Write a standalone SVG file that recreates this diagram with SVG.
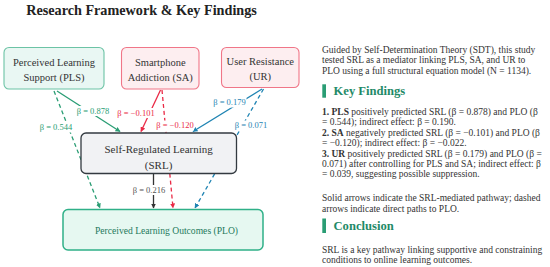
<svg xmlns="http://www.w3.org/2000/svg" width="550" height="267" viewBox="0 0 550 267">
<defs>
<style>
text{font-family:"Liberation Serif","Times New Roman",serif;}
.title{font-size:14.2px;font-weight:bold;fill:#222;text-anchor:middle;}
.node{font-size:10.5px;fill:#333;text-anchor:middle;}
.lbl{font-size:8.5px;text-anchor:middle;}
.body{font-size:9.5px;fill:#333;}
.hdr{font-size:12.6px;font-weight:bold;fill:#1f8a68;}
.pls{stroke:#2a9d74;}
.sa{stroke:#ea2a46;}
.ur{stroke:#1f84b3;}
.srl{stroke:#333;}
.ln{stroke-width:1.3;fill:none;}
.dash{stroke-dasharray:4 3;}
.lblbg{fill:#fff;}
</style>
<marker id="aG" viewBox="0 0 10 10" refX="9" refY="5" markerWidth="5" markerHeight="5" orient="auto" markerUnits="userSpaceOnUse"><path d="M0,0 L10,5 L0,10 z" fill="#2a9d74"/></marker>
<marker id="aR" viewBox="0 0 10 10" refX="9" refY="5" markerWidth="5" markerHeight="5" orient="auto" markerUnits="userSpaceOnUse"><path d="M0,0 L10,5 L0,10 z" fill="#ea2a46"/></marker>
<marker id="aB" viewBox="0 0 10 10" refX="9" refY="5" markerWidth="5" markerHeight="5" orient="auto" markerUnits="userSpaceOnUse"><path d="M0,0 L10,5 L0,10 z" fill="#1f84b3"/></marker>
<marker id="aK" viewBox="0 0 10 10" refX="9" refY="5" markerWidth="5" markerHeight="5" orient="auto" markerUnits="userSpaceOnUse"><path d="M0,0 L10,5 L0,10 z" fill="#333"/></marker>
</defs>
<rect width="550" height="267" fill="#fff"/>
<text class="title" x="141.5" y="15">Research Framework &amp; Key Findings</text>

<g id="connectors">
<line class="ln pls" x1="57" y1="91" x2="120" y2="131.5" marker-end="url(#aG)"/>
<line class="ln pls dash" x1="54" y1="91" x2="100" y2="208" marker-end="url(#aG)"/>
<line class="ln sa" x1="160.5" y1="90" x2="141" y2="131.5" marker-end="url(#aR)"/>
<line class="ln sa dash" x1="162" y1="90" x2="173" y2="208" marker-end="url(#aR)"/>
<line class="ln ur" x1="262" y1="89" x2="193" y2="131.5" marker-end="url(#aB)"/>
<line class="ln ur dash" x1="263.5" y1="89" x2="195" y2="208" marker-end="url(#aB)"/>
<line class="ln srl" x1="153.5" y1="174" x2="153.5" y2="208" marker-end="url(#aK)"/>
<g id="labels">
<rect class="lblbg" x="76" y="106" width="34" height="10"/>
<text class="lbl" x="93" y="113.7" fill="#2a9d74">β = 0.878</text>
<rect class="lblbg" x="39" y="122.5" width="34" height="10"/>
<text class="lbl" x="56" y="130.3" fill="#2a9d74">β = 0.544</text>
<rect class="lblbg" x="117" y="108" width="38" height="10"/>
<text class="lbl" x="136" y="115.7" fill="#ea2a46">β = −0.101</text>
<rect class="lblbg" x="156" y="120.5" width="38" height="10"/>
<text class="lbl" x="175" y="128" fill="#ea2a46">β = −0.120</text>
<rect class="lblbg" x="212.5" y="97.5" width="34" height="10"/>
<text class="lbl" x="229.5" y="105.3" fill="#1f84b3">β = 0.179</text>
<rect class="lblbg" x="234" y="120.5" width="34" height="10"/>
<text class="lbl" x="251" y="128" fill="#1f84b3">β = 0.071</text>
<rect class="lblbg" x="132" y="185" width="34" height="10"/>
<text class="lbl" x="149" y="193" fill="#555">β = 0.216</text>
</g>
</g>

<g id="PLS">
<rect x="4" y="47.5" width="100" height="41.5" rx="5" fill="#e9f7f3" stroke="#6cc3a5" stroke-width="1.1"/>
<text class="node" x="54" y="66">Perceived Learning</text>
<text class="node" x="54" y="80.5">Support (PLS)</text>
</g>
<g id="SA">
<rect x="121.5" y="47.5" width="77.5" height="41.5" rx="5" fill="#fdeef0" stroke="#f07688" stroke-width="1.1"/>
<text class="node" x="160.3" y="66">Smartphone</text>
<text class="node" x="160.3" y="80.5">Addiction (SA)</text>
</g>
<g id="UR">
<rect x="221.5" y="47.5" width="77.5" height="40" rx="5" fill="#fdeef0" stroke="#f07688" stroke-width="1.1"/>
<text class="node" x="260.3" y="65">User Resistance</text>
<text class="node" x="260.3" y="79.5">(UR)</text>
</g>
<g id="SRL">
<rect x="81" y="133" width="155.5" height="40.5" rx="5" fill="#f1f2f4" stroke="#333a40" stroke-width="1.3"/>
<text class="node" x="158.6" y="152.5" style="font-size:11px">Self-Regulated Learning</text>
<text class="node" x="158.6" y="168.5" style="font-size:11px">(SRL)</text>
</g>
<g id="PLO">
<rect x="63" y="209.5" width="200" height="40.5" rx="5" fill="#e6f8f1" stroke="#2fb088" stroke-width="1.5"/>
<text class="node" x="166.5" y="234" style="font-size:9.6px;fill:#1f7a5d">Perceived Learning Outcomes (PLO)</text>
</g>

<g id="panel">
<text class="body" x="322" y="52.5">Guided by Self-Determination Theory (SDT), this study</text>
<text class="body" x="322" y="63.2">tested SRL as a mediator linking PLS, SA, and UR to</text>
<text class="body" x="322" y="74">PLO using a full structural equation model (N = 1134).</text>
<rect x="322.3" y="84.3" width="3.7" height="13.4" fill="#2a9d74"/>
<text class="hdr" x="333.5" y="95.3">Key Findings</text>
<text class="body" x="322" y="114.7"><tspan font-weight="bold">1. PLS</tspan> positively predicted SRL (β = 0.878) and PLO (β</text>
<text class="body" x="322" y="125.3">= 0.544); indirect effect: β = 0.190.</text>
<text class="body" x="322" y="135.7"><tspan font-weight="bold">2. SA</tspan> negatively predicted SRL (β = −0.101) and PLO (β</text>
<text class="body" x="322" y="146.3">= −0.120); indirect effect: β = −0.022.</text>
<text class="body" x="322" y="156.5"><tspan font-weight="bold">3. UR</tspan> positively predicted SRL (β = 0.179) and PLO (β =</text>
<text class="body" x="322" y="167">0.071) after controlling for PLS and SA; indirect effect: β</text>
<text class="body" x="322" y="177.3">= 0.039, suggesting possible suppression.</text>
<text class="body" x="322" y="201.3">Solid arrows indicate the SRL-mediated pathway; dashed</text>
<text class="body" x="322" y="212">arrows indicate direct paths to PLO.</text>
<rect x="322.3" y="218.5" width="3.7" height="14.5" fill="#2a9d74"/>
<text class="hdr" x="333.5" y="230.3">Conclusion</text>
<text class="body" x="322" y="252.5">SRL is a key pathway linking supportive and constraining</text>
<text class="body" x="322" y="263">conditions to online learning outcomes.</text>
</g>
</svg>
